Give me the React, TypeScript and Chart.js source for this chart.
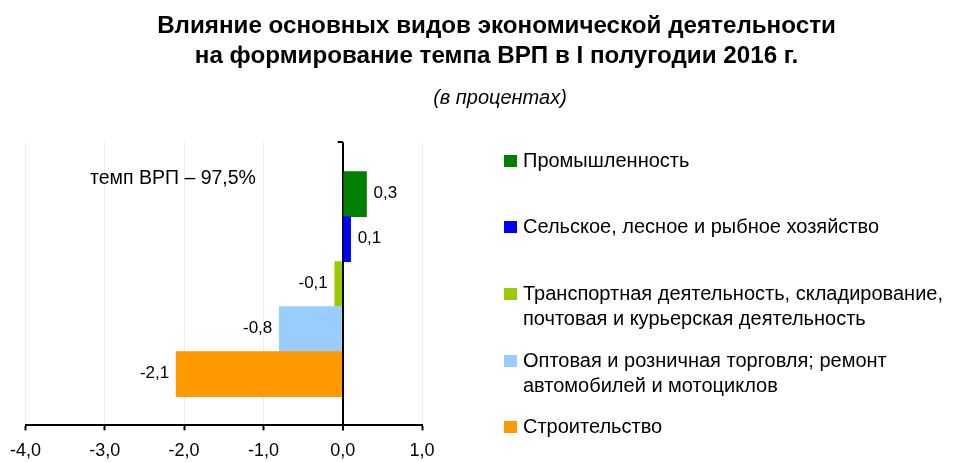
import React, { useEffect, useRef } from "react";
import { Chart, registerables } from "chart.js";

Chart.register(...registerables);

// ---- data ----
const titleLines = [
  "Влияние основных видов экономической деятельности",
  "на формирование темпа ВРП в I полугодии 2016 г.",
];
const subtitle = "(в процентах)";
const note = "темп ВРП – 97,5%";
const categories = [
  ["Промышленность"],
  ["Сельское, лесное и рыбное хозяйство"],
  ["Транспортная деятельность, складирование,", "почтовая и курьерская деятельность"],
  ["Оптовая и розничная торговля; ремонт", "автомобилей и мотоциклов"],
  ["Строительство"],
];
const values = [0.3, 0.1, -0.1, -0.8, -2.1];
const colors = ["#008000", "#0000FF", "#99CC00", "#99CCFF", "#FF9900"];
const xTicks = [-4, -3, -2, -1, 0, 1];

// ---- layout (not data) ----
const W = 953;
const H = 462;
const CANVAS_H = 472;
const legendTop = [148, 214, 281, 348, 414];
const FONT = "'Liberation Sans', Arial, sans-serif";

const fmt = (v: number) => v.toFixed(1).replace(".", ",");

export default function App() {
  const ref = useRef<HTMLCanvasElement>(null);

  useEffect(() => {
    document.body.style.margin = "0";
    const canvas = ref.current!;
    const labelPlugin = {
      id: "barLabels",
      afterDatasetsDraw(chart: any) {
        const ctx = chart.ctx;
        const meta = chart.getDatasetMeta(0);
        ctx.save();
        ctx.font = `17px ${FONT}`;
        ctx.fillStyle = "#000";
        ctx.textBaseline = "middle";
        meta.data.forEach((bar: any, i: number) => {
          const v = values[i];
          if (v >= 0) {
            ctx.textAlign = "left";
            ctx.fillText(fmt(v), bar.x + 7, bar.y - 1);
          } else {
            ctx.textAlign = "right";
            ctx.fillText(fmt(v), bar.x - 7, bar.y - 1);
          }
        });
        // small tick at top of zero line
        const xs = chart.scales.x;
        const x0 = xs.getPixelForValue(0);
        const top = chart.chartArea.top;
        ctx.strokeStyle = "#000";
        ctx.lineWidth = 2;
        ctx.beginPath();
        ctx.moveTo(x0 - 5, top);
        ctx.lineTo(x0, top);
        ctx.stroke();
        ctx.restore();
      },
    };

    const chart = new Chart(canvas, {
      type: "bar",
      data: {
        datasets: [
          {
            data: values.map((v, i) => ({ x: v, y: i })),
            backgroundColor: colors,
            borderWidth: 0,
            barPercentage: 1,
            categoryPercentage: 1,
          },
        ],
      },
      options: {
        indexAxis: "y",
        responsive: false,
        animation: false,
        layout: { padding: { left: 25, right: W - 422, top: 142, bottom: 0 } },
        plugins: {
          legend: { display: false },
          tooltip: { enabled: false },
          title: { display: false },
        },
        scales: {
          x: {
            type: "linear",
            min: xTicks[0],
            max: xTicks[xTicks.length - 1],
            afterBuildTicks: (s: any) => {
              s.ticks = xTicks.map((v) => ({ value: v }));
            },
            ticks: {
              color: "#000",
              font: { family: FONT, size: 18 },
              padding: 10,
              maxRotation: 0,
              callback: (v: any) => fmt(Number(v)),
            },
            grid: {
              color: (c: any) => (c.tick && c.tick.value === 0 ? "#000" : "#EDEDED"),
              lineWidth: (c: any) => (c.tick && c.tick.value === 0 ? 2 : 1),
              tickColor: "#000",
              tickLength: 5,
              tickWidth: 2,
              drawTicks: true,
            },
            border: { display: true, color: "#000", width: 2 },
          },
          y: {
            type: "linear",
            reverse: true,
            offset: false,
            min: -1.16,
            max: 5.138,
            display: false,
          },
        },
      },
      plugins: [labelPlugin],
    } as any);
    return () => chart.destroy();
  }, []);

  return (
    <div
      style={{
        position: "relative",
        width: W,
        height: H,
        overflow: "hidden",
        background: "#fff",
        fontFamily: FONT,
        color: "#000",
      }}
    >
      <canvas ref={ref} width={W} height={CANVAS_H} style={{ position: "absolute", left: 0, top: 0 }} />
      <div
        style={{
          position: "absolute",
          left: 0,
          width: 993,
          top: 10,
          textAlign: "center",
          fontWeight: "bold",
          fontSize: 24.2,
          lineHeight: "30px",
          whiteSpace: "nowrap",
        }}
      >
        {titleLines.map((t, i) => (
          <div key={i}>{t}</div>
        ))}
      </div>
      <div
        style={{
          position: "absolute",
          left: 0,
          width: 1000,
          top: 86,
          textAlign: "center",
          fontStyle: "italic",
          fontSize: 20,
          lineHeight: "22px",
        }}
      >
        {subtitle}
      </div>
      <div style={{ position: "absolute", left: 90, top: 166, fontSize: 19.5, lineHeight: "22px", whiteSpace: "nowrap" }}>
        {note}
      </div>
      {categories.map((lines, i) => (
        <div key={i} style={{ position: "absolute", left: 504, top: legendTop[i], whiteSpace: "nowrap" }}>
          <div
            style={{
              position: "absolute",
              left: 0,
              top: 7,
              width: 13,
              height: 12,
              background: colors[i],
            }}
          />
          <div style={{ position: "absolute", left: 19, top: 0, fontSize: 20, lineHeight: "25px" }}>
            {lines.map((l, j) => (
              <div key={j}>{l}</div>
            ))}
          </div>
        </div>
      ))}
    </div>
  );
}
